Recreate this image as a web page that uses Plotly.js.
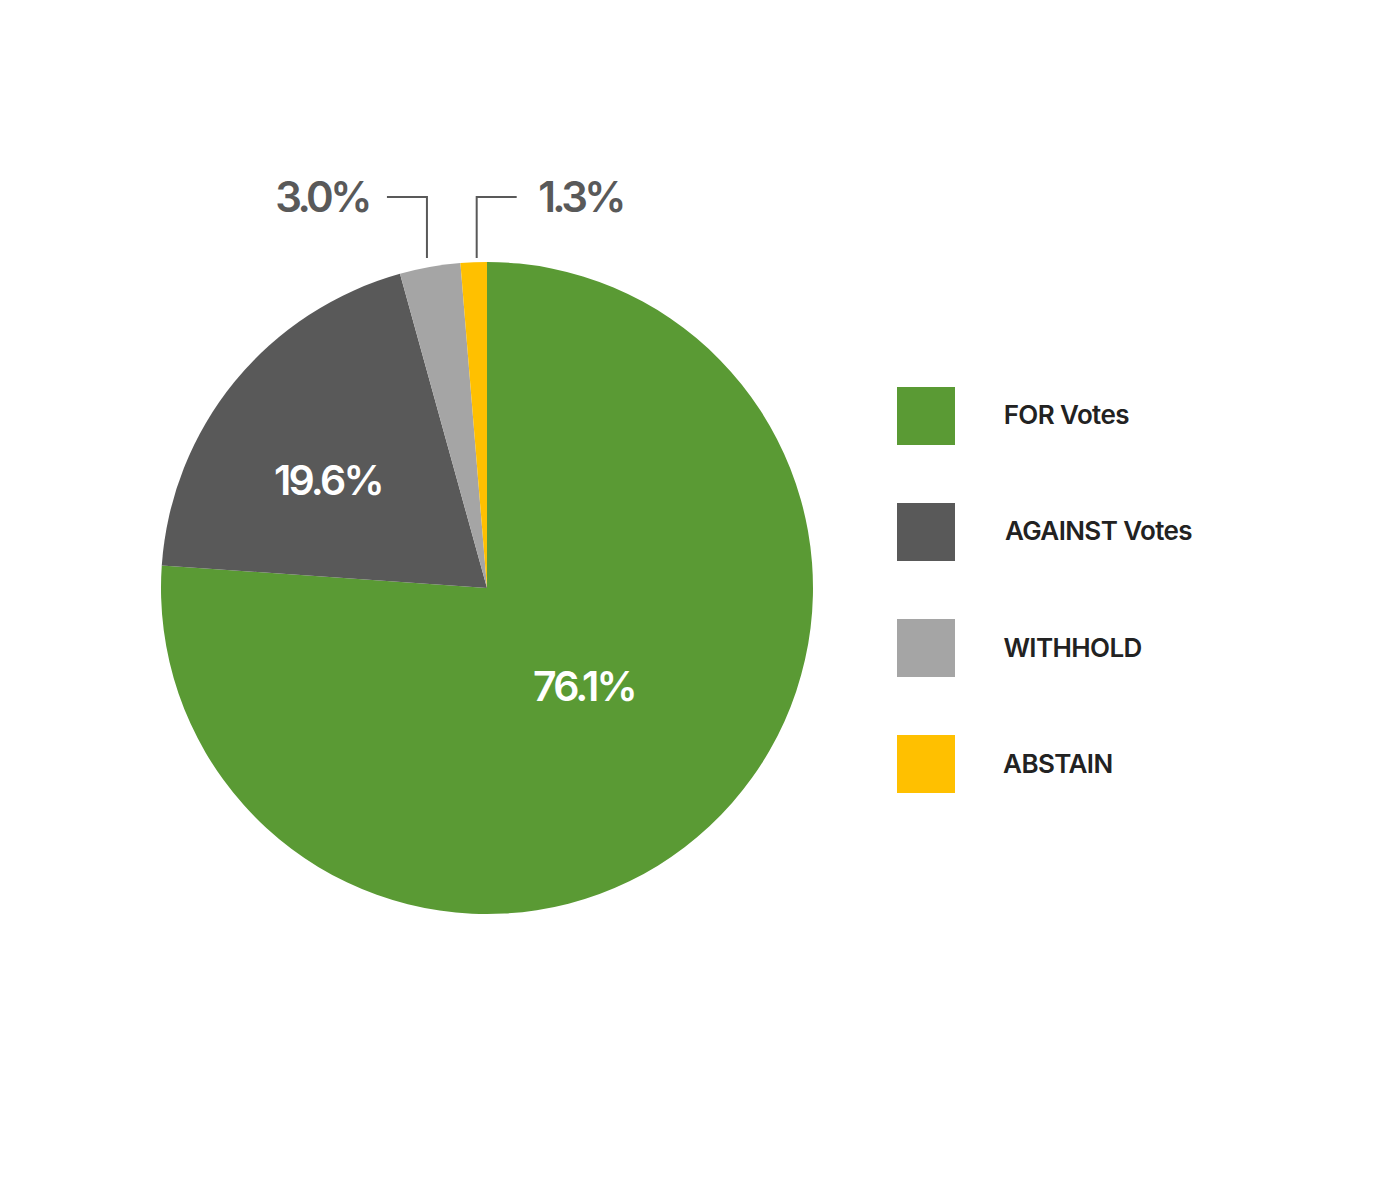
<!DOCTYPE html>
<html>
<head>
<meta charset="utf-8">
<script src="https://cdn.plot.ly/plotly-3.0.1.min.js"></script>
<style>
html,body{margin:0;padding:0;background:#fff;}
#chart{width:1400px;height:1197px;}
</style>
</head>
<body>
<div id="chart"></div>
<script>
// ---- data ----
const categories = ["FOR Votes", "AGAINST Votes", "WITHHOLD", "ABSTAIN"];
const values = [76.1, 19.6, 3.0, 1.3];
const valueLabels = ["76.1%", "19.6%", "3.0%", "1.3%"];
const colors = ["#5A9A34", "#595959", "#A5A5A5", "#FFC000"];
const insideFlags = [true, true, false, false];

// ---- layout constants (pixels) ----
const W = 1400, H = 1197;
const CX = 487, CY = 588, R = 326;
const FONT = "Inter, 'Open Sans', sans-serif";

const px = x => x / W;
const py = y => 1 - y / H;

const total = values.reduce((a, b) => a + b, 0);

const annotations = [];
const shapes = [];

// slice label annotations computed from values
let cum = 0;
values.forEach((v, i) => {
  const midFrac = (cum + v / 2) / total;
  cum += v;
  const ang = midFrac * 2 * Math.PI; // clockwise from top
  const sx = Math.sin(ang);
  if (insideFlags[i]) {
    const big = v / total > 0.5;
    const rf = big ? 0.43 : 0.59;
    const a2 = ang + (big ? -0.015 : -0.09);
    annotations.push({
      x: px(CX + Math.sin(a2) * R * rf), y: py(CY - Math.cos(a2) * R * rf - (big ? 3 : 0)),
      xref: "paper", yref: "paper", text: valueLabels[i], showarrow: false,
      xanchor: "center", yanchor: "middle",
      font: {family: FONT, size: 41, color: "#ffffff", weight: 600}
    });
  } else {
    const ex = CX + sx * R;
    const leftSide = i === 2;
    const lx = leftSide ? ex - 3 : ex + 3;
    const yTop = 197, yBot = 258;
    const hx = leftSide ? lx - 40 : lx + 40;
    shapes.push({type: "path", xref: "paper", yref: "paper",
      path: `M ${px(hx)} ${py(yTop)} L ${px(lx)} ${py(yTop)} L ${px(lx)} ${py(yBot)}`,
      line: {color: "#595959", width: 2}});
    annotations.push({
      x: px(leftSide ? hx - 9 : hx + 12), y: py(yTop - 1),
      xref: "paper", yref: "paper", text: valueLabels[i], showarrow: false,
      xanchor: leftSide ? "right" : "left", yanchor: "middle",
      font: {family: FONT, size: 42, color: "#595959", weight: 600}
    });
  }
});

// custom legend
const legX0 = 897, legSize = 58, legY0 = 387, legStep = 116, legTextX = 999;
categories.forEach((c, i) => {
  const y0 = legY0 + i * legStep;
  shapes.push({type: "rect", xref: "paper", yref: "paper",
    x0: px(legX0), x1: px(legX0 + legSize), y0: py(y0), y1: py(y0 + legSize),
    fillcolor: colors[i], line: {width: 0}});
  annotations.push({x: px(legTextX), y: py(y0 + legSize / 2 - 1), xref: "paper", yref: "paper",
    text: c, showarrow: false, xanchor: "left", yanchor: "middle",
    font: {family: FONT, size: 26, color: "#222222", weight: 600}});
});

const trace = {
  type: "pie",
  labels: categories,
  values: values,
  sort: false,
  direction: "clockwise",
  rotation: 0,
  marker: {colors: colors, line: {width: 0}},
  textinfo: "none",
  hoverinfo: "none",
  showlegend: false,
  domain: {x: [px(CX - R), px(CX + R)], y: [py(CY + R), py(CY - R)]}
};

const layout = {
  width: W, height: H,
  margin: {l: 0, r: 0, t: 0, b: 0},
  paper_bgcolor: "#ffffff",
  showlegend: false,
  annotations: annotations,
  shapes: shapes
};

Plotly.newPlot("chart", [trace], layout, {displayModeBar: false, staticPlot: true}).then(() => {
  // tighten letter spacing of the percentage labels and legend texts
  document.querySelectorAll("#chart .annotation-text").forEach(el => {
    const sz = parseFloat(el.style.fontSize || el.getAttribute("font-size") || "0");
    el.style.letterSpacing = sz > 41.5 ? "-3.6px" : (sz > 35 ? "-2.8px" : "-0.6px");
  });
});
</script>
</body>
</html>
